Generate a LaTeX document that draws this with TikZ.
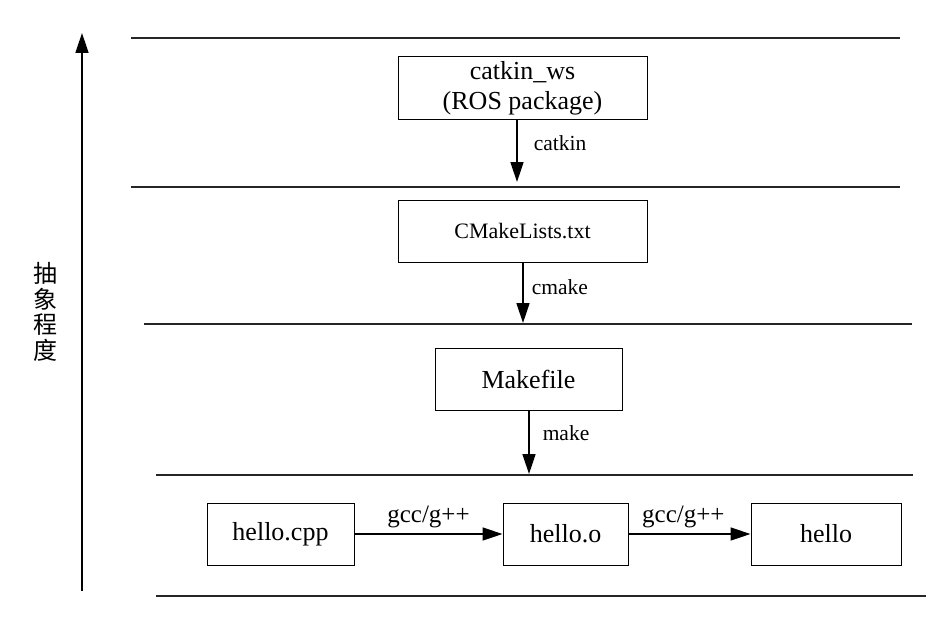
\documentclass[tikz,border=0pt]{standalone}
\usepackage{fontspec}
\setmainfont{Liberation Serif}
\newfontfamily\cjkfont{Noto Sans CJK SC}
\usetikzlibrary{arrows.meta,positioning}
\tikzset{
  box/.style={draw=black, line width=1pt, minimum height=62pt, inner sep=0pt, align=center, font=\fontsize{26}{30}\selectfont},
  flow/.style={-{Triangle[length=20pt,width=13pt]}, line width=1.5pt, black},
  lbl/.style={inner sep=0pt, font=\fontsize{21.5}{24}\selectfont},
  rule/.style={line width=1.7pt, black!85}
}
\begin{document}
\begin{tikzpicture}[x=1pt,y=-1pt]
  \useasboundingbox (0,0) rectangle (950,618);
  % level lines
  \foreach \y/\a/\b in {38/131/900,187/131/900,324/144/912,475/156/913,596/156/926}
    \draw[rule] (\a,\y) -- (\b,\y);

  % abstraction axis
  \coordinate (low) at (82,591);
  \coordinate (high) at (82,33);
  \draw[flow] (low) -- (high);
  \node[font=\cjkfont\fontsize{24}{25.5}\selectfont, align=center, inner sep=0pt] (axis) at (45,312) {抽\\象\\程\\度};

  % boxes
  \node[box, minimum width=249pt] (ws) at (522.5,88) {catkin\_ws\\(ROS package)};
  \node[box, minimum width=249pt, font=\fontsize{22}{26}\selectfont] (cml) at (522.5,231) {CMakeLists.txt};
  \node[box, minimum width=187pt] (mk) at (528.5,379.5) {Makefile};
  \node[box, minimum width=147pt] (cpp) at (280.5,534) {hello.cpp};
  \node[box, minimum width=125pt] (obj) at (565.5,534) {hello.o};
  \node[box, minimum width=150pt] (exe) at (826,534) {hello};

  % vertical steps
  \coordinate (t1) at (517,182);
  \coordinate (t2) at (523,323);
  \coordinate (t3) at (529,474);
  \draw[flow] (ws.south -| t1) -- (t1) node[lbl, pos=.38, right=16pt] (l1) {catkin};
  \draw[flow] (cml.south -| t2) -- (t2) node[lbl, pos=.41, right=8pt] (l2) {cmake};
  \draw[flow] (mk.south -| t3) -- (t3) node[lbl, pos=.35, right=13pt] (l3) {make};

  % horizontal steps
  \draw[flow] (cpp) -- (obj) node[lbl, midway, above=5pt, font=\fontsize{25}{28}\selectfont] (l4) {gcc/g++};
  \draw[flow] (obj) -- (exe) node[lbl, pos=.45, above=5pt, font=\fontsize{25}{28}\selectfont] (l5) {gcc/g++};
\end{tikzpicture}
\end{document}
